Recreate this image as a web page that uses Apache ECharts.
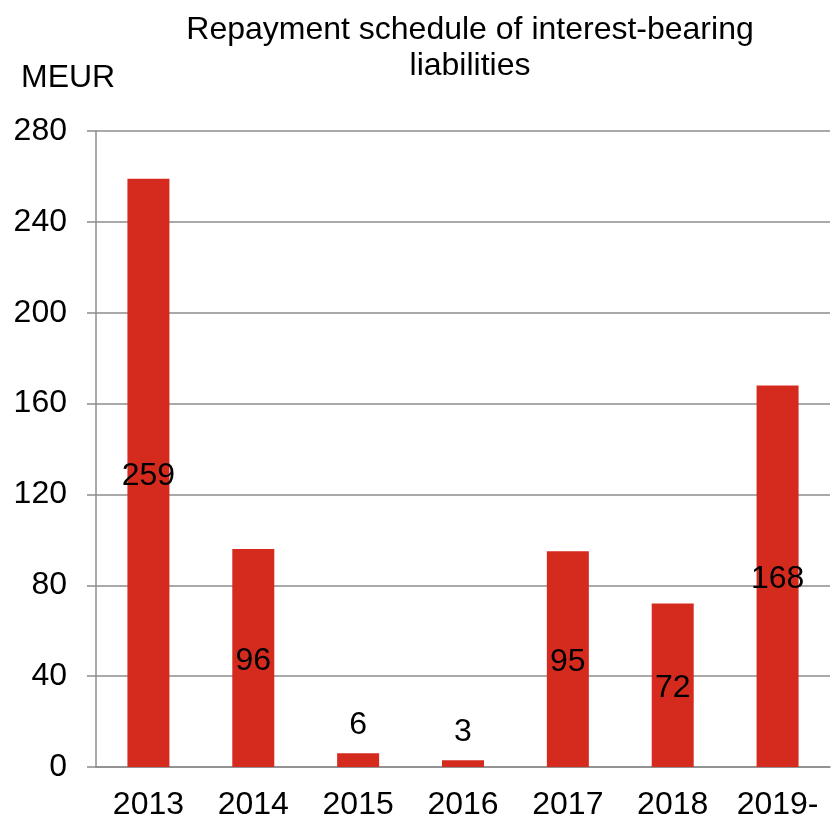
<!DOCTYPE html>
<html>
<head>
<meta charset="utf-8">
<script src="https://cdn.jsdelivr.net/npm/echarts@6/dist/echarts.min.js"></script>
<style>
  html, body { margin: 0; padding: 0; background: #fff; }
  #main { width: 836px; height: 821px; }
</style>
</head>
<body>
<div id="main"></div>
<script>
// 数据
var years = ['2013', '2014', '2015', '2016', '2017', '2018', '2019-'];
var repayments = [259, 96, 6, 3, 95, 72, 168];
var yTicks = { min: 0, max: 280, interval: 40 };

var chart = echarts.init(document.getElementById('main'));
var font = '"Liberation Sans", Arial, sans-serif';
var gray = '#8c8c8c';

// small bars get their label on top
var barData = repayments.map(function (v) {
    return {
        value: v,
        label: v < 20 ? { position: 'top', distance: 12 } : { position: 'inside', offset: [0, 3] }
    };
});

var option = {
    animation: false,
    textStyle: { fontFamily: font },
    title: [
        {
            text: 'Repayment schedule of interest-bearing\nliabilities',
            left: 465,
            top: 7,
            textAlign: 'center',
            textStyle: { fontSize: 32, lineHeight: 36, fontWeight: 'normal', color: '#000', fontFamily: font }
        },
        {
            text: 'MEUR',
            left: 16,
            top: 55,
            textStyle: { fontSize: 32, lineHeight: 36, fontWeight: 'normal', color: '#000', fontFamily: font }
        }
    ],
    grid: { left: 96, right: 6, top: 131, bottom: 53, containLabel: false },
    xAxis: {
        type: 'category',
        data: years,
        axisLine: { lineStyle: { color: gray, width: 1.5 } },
        axisTick: { alignWithLabel: true, length: 7, lineStyle: { color: gray, width: 1.5 } },
        axisLabel: { color: '#000', fontSize: 32, margin: 22, interval: 0, fontFamily: font }
    },
    yAxis: {
        type: 'value',
        min: yTicks.min,
        max: yTicks.max,
        interval: yTicks.interval,
        axisLine: { show: true, lineStyle: { color: gray, width: 1.5 } },
        axisTick: { show: true, length: 9, lineStyle: { color: gray, width: 1.5 } },
        axisLabel: { color: '#000', fontSize: 32, margin: 29, fontFamily: font },
        splitLine: { lineStyle: { color: gray, width: 1.5 } }
    },
    series: [
        {
            type: 'bar',
            data: barData,
            barWidth: 42,
            itemStyle: { color: '#d52b1f' },
            label: { show: true, color: '#000', fontSize: 32, fontFamily: font }
        }
    ]
};
chart.setOption(option);
</script>
</body>
</html>
